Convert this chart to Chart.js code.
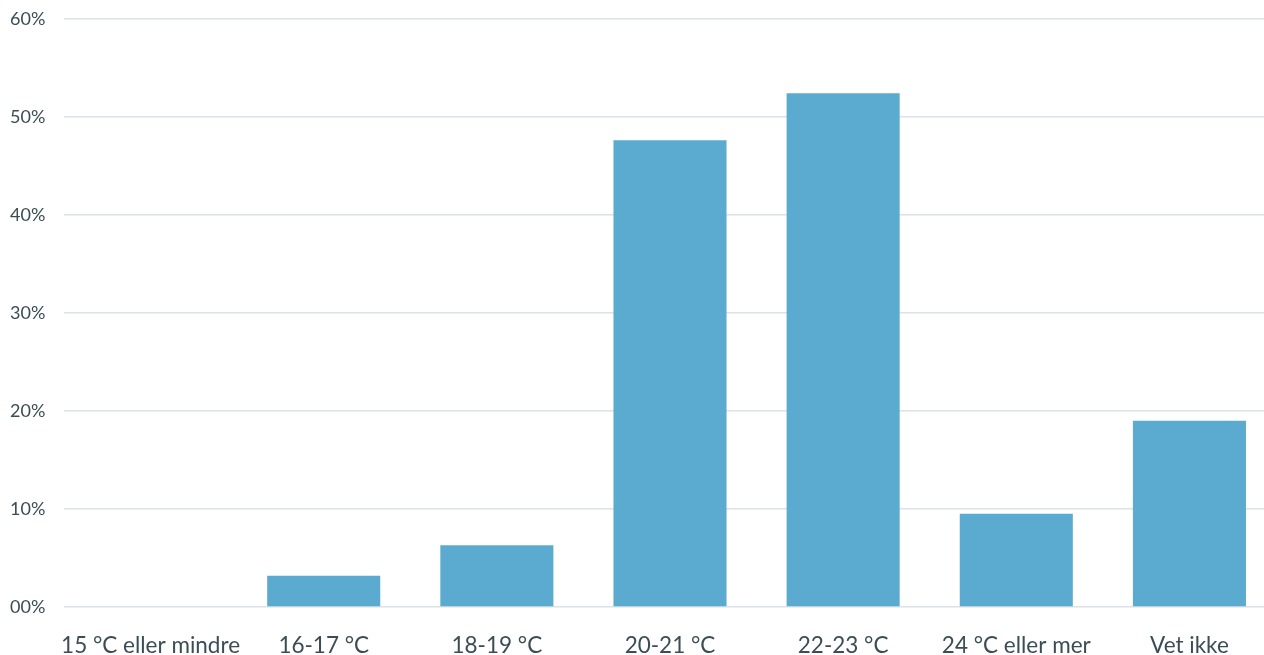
<!DOCTYPE html>
<html>
<head>
<meta charset="utf-8">
<script src="https://cdn.jsdelivr.net/npm/chart.js@4"></script>
<style>
  html, body { margin: 0; padding: 0; background: #fff; overflow: hidden; }
  #wrap { width: 1276px; height: 655px; }
</style>
</head>
<body>
<div id="wrap"><canvas id="myChart"></canvas></div>
<script>
const categories = [
  "15 °C eller mindre",
  "16-17 °C",
  "18-19 °C",
  "20-21 °C",
  "22-23 °C",
  "24 °C eller mer",
  "Vet ikke",
];
const shares = [0, 3.2, 6.3, 47.6, 52.4, 9.5, 19.0];
const yTicks = [0, 10, 20, 30, 40, 50, 60];

const textColor = "#3b4d54";

const ctx = document.getElementById("myChart").getContext("2d");
new Chart(ctx, {
  type: "bar",
  data: {
    labels: categories,
    datasets: [
      {
        label: "Andel",
        data: shares,
        backgroundColor: "#5aabcf",
        borderWidth: 0,
        categoryPercentage: 1,
        barPercentage: 0.653,
      },
    ],
  },
  options: {
    responsive: true,
    maintainAspectRatio: false,
    animation: false,
    layout: {
      padding: { left: 10, top: 17, right: 0, bottom: 0 },
    },
    plugins: {
      legend: { display: false },
      tooltip: { enabled: false },
    },
    scales: {
      x: {
        afterFit: (scale) => {
          scale.height = 48;
        },
        grid: { display: false, drawTicks: false },
        border: { display: false },
        ticks: {
          color: textColor,
          padding: 25,
          maxRotation: 0,
          autoSkip: false,
          font: { family: "Lato", size: 22.5 },
        },
      },
      y: {
        min: 0,
        max: 60,
        afterBuildTicks: (scale) => {
          scale.ticks = yTicks.map((v) => ({ value: v }));
        },
        afterFit: (scale) => {
          scale.width = 54;
        },
        grid: { color: "#dce2e7", lineWidth: 1.5, drawTicks: false },
        border: { display: false },
        ticks: {
          color: textColor,
          crossAlign: "far",
          padding: 8,
          font: { family: "Lato", size: 18 },
          callback: (v) => String(v).padStart(2, "0") + "%",
        },
      },
    },
  },
});
</script>
</body>
</html>
